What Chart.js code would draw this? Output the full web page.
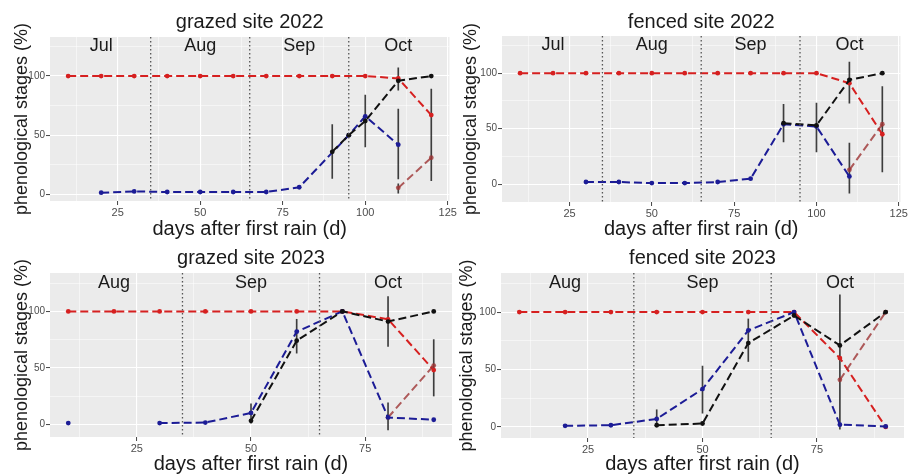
<!DOCTYPE html>
<html>
<head>
<meta charset="utf-8">
<script src="https://cdn.jsdelivr.net/npm/chart.js@4.4.1/dist/chart.umd.min.js"></script>
<style>
    html, body { margin: 0; padding: 0; background: #fff; }
    #wrap { position: relative; width: 909px; height: 475px; overflow: hidden; }
    canvas { position: absolute; }
</style>
</head>
<body>
<div id="wrap">
    <canvas id="grazed2022" width="458" height="240" style="left:0;top:0"></canvas>
    <canvas id="fenced2022" width="451" height="240" style="left:458px;top:0"></canvas>
    <canvas id="grazed2023" width="458" height="238" style="left:0;top:237px"></canvas>
    <canvas id="fenced2023" width="451" height="238" style="left:458px;top:237px"></canvas>
</div>
<script>
// grazed site 2022
const daysG22 = [10, 20, 30, 40, 50, 60, 70, 80, 90, 95, 100, 110, 120];
const redG22 = [100, 100, 100, 100, 100, 100, 100, 100, 100, null, 100, 98, 67];
const blueG22 = [null, 1.4, 2.5, 2, 2, 2, 2, 6, null, 50, 66, 42, null];
const blackG22 = [null, null, null, null, null, null, null, null, 36, 50, 62, 96, 100];
const darkG22 = [null, null, null, null, null, null, null, null, null, null, null, 5.5, 31];
const errXG22 = [90, 100, 110, 110, 110, 120];
const errLoG22 = [13.5, 40, 88, 13, 1, 11.5];
const errHiG22 = [59, 84, 107, 72, 9, 89];

// fenced site 2022
const daysF22 = [10, 20, 30, 40, 50, 60, 70, 80, 90, 100, 110, 120];
const redF22 = [100, 100, 100, 100, 100, 100, 100, 100, 100, 100, 91, 45];
const blueF22 = [null, null, 2, 2, 1, 1, 2, 5, 54, 52, 7, null];
const blackF22 = [null, null, null, null, null, null, null, null, 55, 53, 94, 100];
const darkF22 = [null, null, null, null, null, null, null, null, null, null, 13, 54];
const errXF22 = [90, 100, 110, 110, 120];
const errLoF22 = [38, 29, 73, -8, 11];
const errHiF22 = [72, 73, 110, 37, 88];

// grazed site 2023
const days23 = [10, 20, 30, 40, 50, 60, 70, 80, 90];
const redG23 = [100, 100, 100, 100, 100, 100, 100, 93, 48];
const blueG23 = [1, null, 1, 1.5, 10, 82, 100, 6, 4];
const blackG23 = [null, null, null, null, 3, 74, 100, 91, 100];
const darkG23 = [null, null, null, null, null, null, null, 6, 52];
const errXG23 = [50, 60, 80, 80, 90];
const errLoG23 = [1, 63, 69, -5, 25];
const errHiG23 = [18, 93, 113, 19, 75];

// fenced site 2023
const redF23 = [100, 100, 100, 100, 100, 100, 100, 60, 0];
const blueF23 = [null, 1, 1.5, 7, 33, 84, 100, 2, 0.5];
const blackF23 = [null, null, null, 1.5, 3, 73, 97, 71, 100];
const darkF23 = [null, null, null, null, null, null, null, 41, 100];
const errXF23 = [40, 50, 60, 80];
const errLoF23 = [1, 12, 57, -2];
const errHiF23 = [15, 53, 94, 115];

// months
const months2022 = ['Jul', 'Aug', 'Sep', 'Oct'];
const monthMid2022 = [20, 50, 80, 110];
const monthEdge2022 = [35, 65, 95];
const months2023 = ['Aug', 'Sep', 'Oct'];
const monthMid2023 = [20, 50, 80];
const monthEdge2023 = [35, 65];
const monthLabelY = 125;

const xTickValues = [12.5, 25, 37.5, 50, 62.5, 75, 87.5, 100, 112.5, 125];
const yTickValues = [0, 25, 50, 75, 100, 125];

const FONT = "'Liberation Sans', Arial, sans-serif";
const RED = 'rgb(214, 32, 32)';
const DARKRED = 'rgba(158, 52, 52, 0.8)';
const BLUE = 'rgb(28, 28, 150)';
const BLACK = '#111';

const panelDecor = {
    id: 'panelDecor',
    beforeDraw(chart) {
        const { ctx, chartArea: a } = chart;
        ctx.save();
        ctx.fillStyle = '#ebebeb';
        ctx.fillRect(a.left, a.top, a.width, a.height);
        ctx.restore();
    },
    afterDatasetsDraw(chart, args, opts) {
        const { ctx, chartArea: a, scales } = chart;
        ctx.save();
        // month borders
        ctx.strokeStyle = '#555';
        ctx.lineWidth = 1.3;
        ctx.setLineDash([1.5, 2.5]);
        opts.edges.forEach(v => {
            const px = scales.x.getPixelForValue(v);
            ctx.beginPath();
            ctx.moveTo(px, a.top);
            ctx.lineTo(px, a.bottom);
            ctx.stroke();
        });
        // month names
        ctx.setLineDash([]);
        ctx.fillStyle = '#1a1a1a';
        ctx.font = `18px ${FONT}`;
        ctx.textAlign = 'center';
        ctx.textBaseline = 'middle';
        opts.names.forEach((name, i) => {
            ctx.fillText(name, scales.x.getPixelForValue(opts.mids[i]), scales.y.getPixelForValue(monthLabelY));
        });
        ctx.restore();
    }
};

function lineSeries(days, values, color, order, spanGaps = true) {
    return {
        type: 'line',
        data: days.map((d, i) => ({ x: d, y: values[i] })),
        borderColor: color,
        backgroundColor: color,
        borderWidth: 2,
        borderDash: [8, 4],
        pointRadius: 2.4,
        pointBorderWidth: 0,
        tension: 0,
        spanGaps: spanGaps,
        order: order
    };
}

function errorSeries(xs, lo, hi) {
    return {
        type: 'bar',
        data: xs.map((d, i) => ({ x: d, y: [lo[i], hi[i]] })),
        backgroundColor: 'rgba(30, 30, 30, 0.85)',
        barThickness: 1,
        grouped: false,
        order: 10
    };
}

function buildPanel(id, p) {
    const gridWidth = major => major ? 1.1 : 0.5;
    new Chart(document.getElementById(id), {
        type: 'line',
        data: { datasets: p.datasets },
        options: {
            responsive: false,
            animation: false,
            events: [],
            layout: { padding: { left: 0, right: p.padRight, top: 0, bottom: 0 } },
            plugins: {
                legend: { display: false },
                tooltip: { enabled: false },
                title: {
                    display: true,
                    text: p.title,
                    fullSize: false,
                    color: '#1a1a1a',
                    font: { family: FONT, size: 20, weight: 'normal', lineHeight: 1.2 },
                    padding: { top: p.titleTop, bottom: p.titleBottom }
                },
                panelDecor: { names: p.months, mids: p.monthMids, edges: p.edges }
            },
            scales: {
                x: {
                    type: 'linear',
                    min: p.xMin,
                    max: p.xMax,
                    offset: false,
                    afterBuildTicks: scale => {
                        scale.ticks = xTickValues.filter(v => v >= scale.min && v <= scale.max).map(v => ({ value: v }));
                    },
                    afterFit: scale => { scale.height = p.xAxisHeight; },
                    ticks: {
                        autoSkip: false,
                        maxRotation: 0,
                        padding: 1,
                        color: '#4d4d4d',
                        font: { family: FONT, size: 11 },
                        callback: v => (v % 25 === 0 ? v : '')
                    },
                    grid: {
                        offset: false,
                        color: '#ffffff',
                        lineWidth: ctx => gridWidth(ctx.tick && ctx.tick.value % 25 === 0),
                        tickColor: ctx => (ctx.tick && ctx.tick.value % 25 === 0 ? '#444' : 'rgba(0,0,0,0)'),
                        tickLength: 4,
                        tickWidth: 1
                    },
                    border: { display: false },
                    title: {
                        display: true,
                        text: 'days after first rain (d)',
                        color: '#1a1a1a',
                        font: { family: FONT, size: 20, lineHeight: 1 },
                        padding: { top: 0, bottom: 1 }
                    }
                },
                y: {
                    type: 'linear',
                    min: p.yMin,
                    max: p.yMax,
                    afterBuildTicks: scale => {
                        scale.ticks = yTickValues.filter(v => v >= scale.min && v <= scale.max).map(v => ({ value: v }));
                    },
                    afterFit: scale => { scale.width = p.yAxisWidth; },
                    ticks: {
                        autoSkip: false,
                        padding: 1,
                        color: '#4d4d4d',
                        font: { family: FONT, size: 10 },
                        callback: v => (v % 50 === 0 ? v : '')
                    },
                    grid: {
                        color: '#ffffff',
                        lineWidth: ctx => gridWidth(ctx.tick && ctx.tick.value % 50 === 0),
                        tickColor: ctx => (ctx.tick && ctx.tick.value % 50 === 0 ? '#444' : 'rgba(0,0,0,0)'),
                        tickLength: 4,
                        tickWidth: 1
                    },
                    border: { display: false },
                    title: {
                        display: true,
                        text: 'phenological stages (%)',
                        color: '#1a1a1a',
                        font: { family: FONT, size: 18, lineHeight: 1 },
                        padding: { top: p.yTitlePad, bottom: 0 }
                    }
                }
            }
        },
        plugins: [panelDecor]
    });
}

buildPanel('grazed2022', {
    title: 'grazed site 2022',
    datasets: [
        errorSeries(errXG22, errLoG22, errHiG22),
        lineSeries(daysG22, redG22, RED, 4),
        lineSeries(daysG22, darkG22, DARKRED, 3),
        lineSeries(daysG22, blueG22, BLUE, 2),
        lineSeries(daysG22, blackG22, BLACK, 1)
    ],
    months: months2022, monthMids: monthMid2022, edges: monthEdge2022,
    xMin: 4.5, xMax: 125.5, yMin: -5.6, yMax: 133,
    padRight: 6, yAxisWidth: 50, xAxisHeight: 39,
    titleTop: 10, titleBottom: 3, yTitlePad: 13
});

buildPanel('fenced2022', {
    title: 'fenced site 2022',
    datasets: [
        errorSeries(errXF22, errLoF22, errHiF22),
        lineSeries(daysF22, redF22, RED, 4),
        lineSeries(daysF22, darkF22, DARKRED, 3),
        lineSeries(daysF22, blueF22, BLUE, 2),
        lineSeries(daysF22, blackF22, BLACK, 1)
    ],
    months: months2022, monthMids: monthMid2022, edges: monthEdge2022,
    xMin: 4.5, xMax: 125.5, yMin: -16, yMax: 133.5,
    padRight: 5, yAxisWidth: 44, xAxisHeight: 38,
    titleTop: 10, titleBottom: 2, yTitlePad: 4
});

buildPanel('grazed2023', {
    title: 'grazed site 2023',
    datasets: [
        errorSeries(errXG23, errLoG23, errHiG23),
        lineSeries(days23, redG23, RED, 4),
        lineSeries(days23, darkG23, DARKRED, 3),
        lineSeries(days23, blueG23, BLUE, 2, false),
        lineSeries(days23, blackG23, BLACK, 1)
    ],
    months: months2023, monthMids: monthMid2023, edges: monthEdge2023,
    xMin: 6, xMax: 94, yMin: -11.3, yMax: 134,
    padRight: 6, yAxisWidth: 50, xAxisHeight: 38,
    titleTop: 9, titleBottom: 3, yTitlePad: 13
});

buildPanel('fenced2023', {
    title: 'fenced site 2023',
    datasets: [
        errorSeries(errXF23, errLoF23, errHiF23),
        lineSeries(days23, redF23, RED, 4),
        lineSeries(days23, darkF23, DARKRED, 3),
        lineSeries(days23, blueF23, BLUE, 2),
        lineSeries(days23, blackF23, BLACK, 1)
    ],
    months: months2023, monthMids: monthMid2023, edges: monthEdge2023,
    xMin: 6, xMax: 94, yMin: -9.6, yMax: 134,
    padRight: 5, yAxisWidth: 43, xAxisHeight: 37,
    titleTop: 9, titleBottom: 3, yTitlePad: 0
});
</script>
</body>
</html>
